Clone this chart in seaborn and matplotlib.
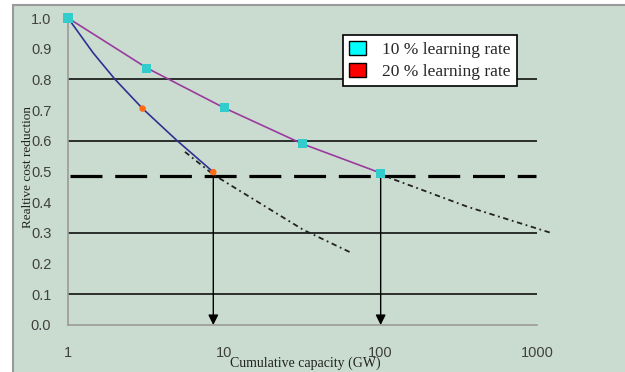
import numpy as np
import pandas as pd
import seaborn as sns
import matplotlib.pyplot as plt
from matplotlib.patches import Patch, Rectangle

## Données

# 10 % learning rate (points et courbe)
cap_10 = [1, 3.2, 10, 31.6, 100]
cost_10 = [1.0, 0.837, 0.707, 0.59, 0.495]

# 20 % learning rate
cap_20_line = [1, 1.45, 2, 3, 5, 8.5]
cost_20_line = [1.0, 0.886, 0.80, 0.705, 0.60, 0.498]
cap_20_pts = [1, 3, 8.5]
cost_20_pts = [1.0, 0.705, 0.498]

# extrapolations (pointillés)
cap_20_ext = [5.6, 8.5, 32, 65]
cost_20_ext = [0.564, 0.49, 0.31, 0.235]
cap_10_ext = [100, 360, 1230]
cost_10_ext = [0.49, 0.385, 0.30]

# niveau 50 % et flèches
half_level = 0.485
arrow_caps = [8.5, 100]

grid_levels = [0.1, 0.3, 0.6, 0.8]
x_ticks = [1, 10, 100, 1000]
x_labels = ["1", "10", "100", "1000"]
y_ticks = [round(0.1 * i, 1) for i in range(11)]
legend_labels = ["10 % learning rate", "20 % learning rate"]

bg = "#CADCCF"

sns.set_style("white")
plt.rcParams["font.family"] = ["Liberation Sans", "DejaVu Sans"]

fig = plt.figure(figsize=(6.25, 3.72), dpi=100)
fig.patch.set_facecolor("white")
fig.patches.append(Rectangle((13 / 625, -0.02), 1.0, (372 - 5) / 372 + 0.02,
                             transform=fig.transFigure, facecolor=bg,
                             edgecolor="#9A9A9A", lw=1.5, zorder=-10))

ax = fig.add_axes([68 / 625, (372 - 325) / 372, (537 - 68) / 625, (325 - 18) / 372])
ax.set_facecolor("none")
ax.set_xscale("log")
ax.set_xlim(1, 1000)
ax.set_ylim(0, 1.0)

# lignes de grille
ax.hlines(grid_levels, 1, 1000, color="black", lw=1.1, zorder=1)

# ligne 50 %
ax.hlines(half_level, 1.03, 980, color="black", lw=2.3, linestyles=(0, (10, 4)), zorder=3)

# courbes
sns.lineplot(x=cap_10, y=cost_10, ax=ax, color="#9B3A9E", lw=1.2, estimator=None, sort=False, zorder=4)
sns.lineplot(x=cap_20_line, y=cost_20_line, ax=ax, color="#2E3192", lw=1.2, estimator=None, sort=False, zorder=4)
ax.plot(cap_20_ext, cost_20_ext, color="#222222", lw=1.3, linestyle=(0, (3, 2, 1, 2)), zorder=3)
ax.plot(cap_10_ext, cost_10_ext, color="#222222", lw=1.3, linestyle=(0, (3, 2, 1, 2)), zorder=3, clip_on=False)

# marqueurs
sns.scatterplot(x=cap_20_pts, y=cost_20_pts, ax=ax, color="#FF6A13", marker="o", s=22,
                edgecolor="none", zorder=5, clip_on=False)
sns.scatterplot(x=cap_10, y=cost_10, ax=ax, color="#33CCCC", marker="s", s=42,
                edgecolor="none", zorder=6, clip_on=False)

# flèches
for c in arrow_caps:
    ax.annotate("", xy=(c, 0.0), xytext=(c, half_level),
                arrowprops=dict(arrowstyle="-|>", color="black", lw=1.0,
                                mutation_scale=15, shrinkA=0, shrinkB=0), zorder=4)

# axes
for s in ["top", "right"]:
    ax.spines[s].set_visible(False)
for s in ["left", "bottom"]:
    ax.spines[s].set_color("#9A9A9A")
    ax.spines[s].set_linewidth(1.2)
ax.set_xticks(x_ticks)
ax.set_xticklabels(x_labels)
ax.minorticks_off()
ax.set_yticks(y_ticks)
ax.set_yticklabels([f"{v:.1f}" for v in y_ticks])
ax.tick_params(axis="both", colors="#9A9A9A", labelcolor="#404040", labelsize=10.5,
               length=4, width=1, direction="out")
ax.tick_params(axis="y", pad=8)
ax.tick_params(axis="x", pad=11)
ax.set_xlabel("")
ax.set_ylabel("")

fig.text(28 / 625, 1 - 167 / 372, "Realtive cost reduction", rotation=90,
         ha="center", va="center", fontsize=9.5, family="Liberation Serif", color="#222222")
fig.text(305 / 625, 1 - 363 / 372, "Cumulative capacity (GW)",
         ha="center", va="center", fontsize=10, family="Liberation Serif", color="#222222")

handles = [Patch(facecolor="#00FFFF", edgecolor="black", lw=1),
           Patch(facecolor="#FF0000", edgecolor="black", lw=1)]
leg = fig.legend(handles, legend_labels, loc="upper left",
                 bbox_to_anchor=(343 / 625, 1 - 35 / 372), fancybox=False,
                 framealpha=1, edgecolor="black", prop={"family": "Liberation Serif", "size": 12.5},
                 handlelength=1.0, handleheight=0.85, handletextpad=0.9, labelspacing=0.3,
                 borderpad=0.35, borderaxespad=0)
leg.get_frame().set_linewidth(1.2)

plt.savefig("out.png", dpi=100)
